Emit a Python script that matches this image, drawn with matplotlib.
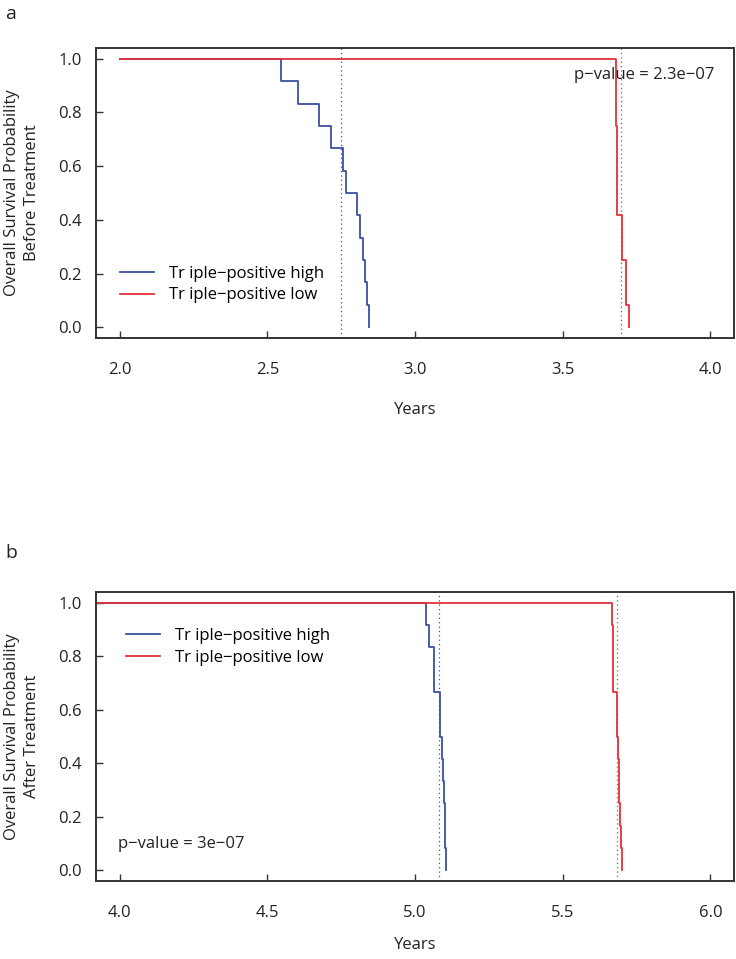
import matplotlib

matplotlib.use("Agg")
import matplotlib.pyplot as plt

plt.rcParams["font.family"] = ["Open Sans", "DejaVu Sans"]

# survival step data (time, survival)
A_HIGH_T = [2.0, 2.547, 2.604, 2.675, 2.714, 2.756, 2.766, 2.803, 2.813, 2.823, 2.830, 2.836, 2.844]
A_HIGH_S = [1.0, 0.917, 0.833, 0.750, 0.667, 0.583, 0.500, 0.417, 0.333, 0.250, 0.167, 0.083, 0.0]
A_LOW_T = [2.0, 3.682, 3.685, 3.702, 3.713, 3.724]
A_LOW_S = [1.0, 0.750, 0.417, 0.250, 0.083, 0.0]
A_MEDIANS = [2.751, 3.696]
A_PVALUE = "p\u2212value = 2.3e\u221207"

B_HIGH_T = [3.9, 5.038, 5.047, 5.066, 5.083, 5.086, 5.092, 5.096, 5.099, 5.101, 5.104]
B_HIGH_S = [1.0, 0.917, 0.833, 0.667, 0.583, 0.500, 0.417, 0.333, 0.250, 0.083, 0.0]
B_LOW_T = [3.9, 5.668, 5.670, 5.671, 5.683, 5.685, 5.687, 5.689, 5.692, 5.695, 5.698, 5.702]
B_LOW_S = [1.0, 0.917, 0.833, 0.667, 0.583, 0.500, 0.417, 0.333, 0.250, 0.167, 0.083, 0.0]
B_MEDIANS = [5.082, 5.685]
B_PVALUE = "p\u2212value = 3e\u221207"

LABELS = ["Tr iple\u2212positive high", "Tr iple\u2212positive low"]
BLUE = "#3c4f9e"
RED = "#e2323a"
FRAME = "#333333"
FS = 12

W, H = 736, 959
fig = plt.figure(figsize=(W / 100, H / 100), dpi=100)


def px_axes(left, top, right, bottom):
    return fig.add_axes([left / W, 1 - bottom / H, (right - left) / W, (bottom - top) / H])


def draw_panel(ax, high, low, medians, xlim, xticks, ylabel, pvalue, pv_pos, leg_pos, xlab_y):
    ax.step(high[0], high[1], where="post", color=BLUE, lw=1.3, label=LABELS[0])
    ax.step(low[0], low[1], where="post", color=RED, lw=1.3, label=LABELS[1])
    ax.axvline(medians[0], color=BLUE, lw=0.9, ls=(0, (1, 2.5)))
    ax.axvline(medians[1], color=RED, lw=0.9, ls=(0, (1, 2.5)))
    ax.set_xlim(*xlim)
    ax.set_ylim(-0.04, 1.04)
    ax.set_xticks(xticks)
    ax.set_xticklabels([f"{t:.1f}" for t in xticks])
    ax.set_yticks([0, 0.2, 0.4, 0.6, 0.8, 1.0])
    ax.set_yticklabels(["0.0", "0.2", "0.4", "0.6", "0.8", "1.0"])
    ax.tick_params(direction="in", length=5, width=1, color=FRAME, labelsize=FS, labelcolor="#222222")
    ax.tick_params(axis="x", pad=17)
    ax.tick_params(axis="y", pad=10)
    for sp in ax.spines.values():
        sp.set_color(FRAME)
        sp.set_linewidth(1.4)
    ax.text(-0.116, 0.5, ylabel, transform=ax.transAxes, rotation=90, ha="center", va="center",
            fontsize=FS, multialignment="center", color="#222222", linespacing=1.4)
    ax.text(0.5, xlab_y, "Years", transform=ax.transAxes, ha="center", va="center",
            fontsize=FS, color="#222222")
    ax.text(pv_pos[0], pv_pos[1], pvalue, ha="left", va="center", fontsize=FS, color="#222222")
    ax.legend(loc="upper left", bbox_to_anchor=leg_pos, frameon=False, fontsize=FS,
              handlelength=2.0, handletextpad=0.95, labelspacing=0.35, borderpad=0, borderaxespad=0)


ax_a = px_axes(96, 48, 734, 338)
draw_panel(ax_a, (A_HIGH_T, A_HIGH_S), (A_LOW_T, A_LOW_S), A_MEDIANS,
           (1.92, 4.08), [2.0, 2.5, 3.0, 3.5, 4.0],
           "Overall Survival Probability\nBefore Treatment",
           A_PVALUE, (3.537, 0.941), (0.038, 0.25), -0.25)

ax_b = px_axes(96, 592, 734, 881)
draw_panel(ax_b, (B_HIGH_T, B_HIGH_S), (B_LOW_T, B_LOW_S), B_MEDIANS,
           (3.92, 6.08), [4.0, 4.5, 5.0, 5.5, 6.0],
           "Overall Survival Probability\nAfter Treatment",
           B_PVALUE, (3.996, 0.1), (0.0475, 0.875), -0.221)

fig.text(5 / W, 1 - 14 / H, "a", fontsize=14, ha="left", va="center", color="#222222")
fig.text(5 / W, 1 - 553 / H, "b", fontsize=14, ha="left", va="center", color="#222222")

fig.savefig("out.png", dpi=100)
